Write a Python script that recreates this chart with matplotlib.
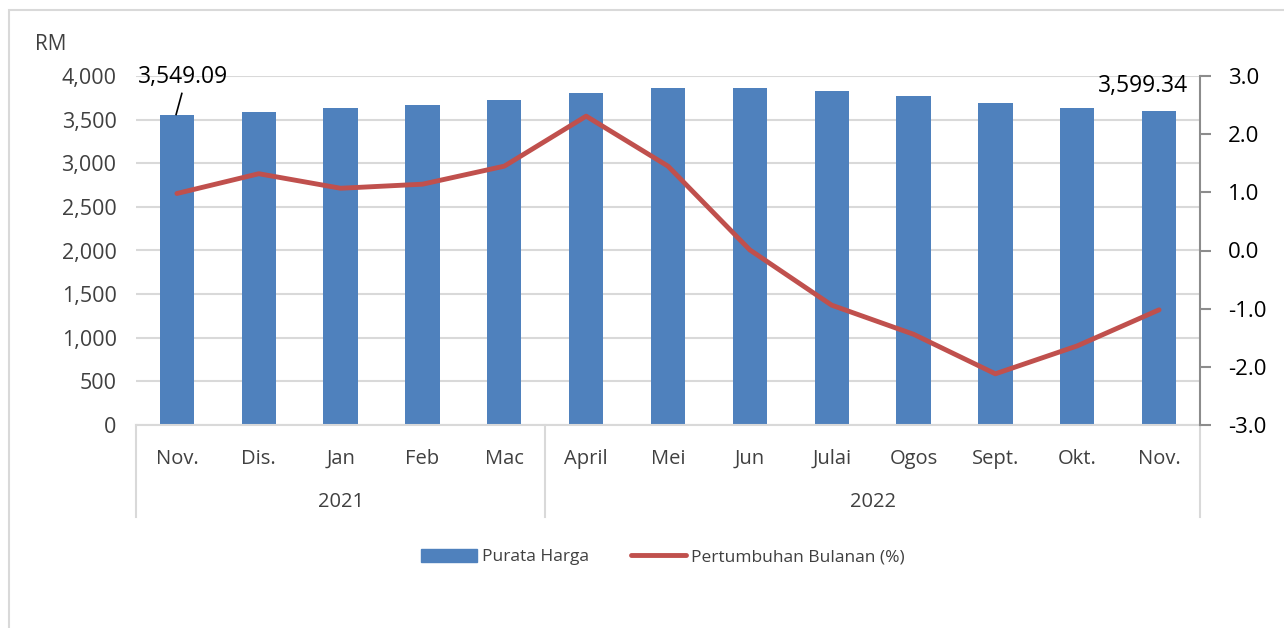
import matplotlib
matplotlib.use("Agg")
from matplotlib import pyplot as plt
from matplotlib import transforms
from matplotlib.lines import Line2D
from matplotlib.patches import Patch

months = ["Nov.", "Dis.", "Jan", "Feb", "Mac", "April", "Mei", "Jun",
          "Julai", "Ogos", "Sept.", "Okt.", "Nov."]
years = ["2021", "2022"]
year_spans = [(0, 4), (5, 12)]
avg_price = [3549.09, 3588, 3632, 3668, 3722, 3805, 3862, 3862,
             3828, 3771, 3690, 3633, 3599.34]
monthly_growth = [0.98, 1.32, 1.07, 1.14, 1.45, 2.31, 1.45, 0.01,
                  -0.94, -1.44, -2.12, -1.64, -1.02]

BLUE = "#4F81BD"
RED = "#C0504D"
GRID = "#D9D9D9"
TXT = "#404040"

plt.rcParams["font.family"] = ["Open Sans", "DejaVu Sans"]

fig = plt.figure(figsize=(12.84, 6.28), dpi=100)
fig.patches.append(plt.Rectangle((9 / 1284, -0.1), 1.2, 1 - 10 / 628 + 0.1,
                                 transform=fig.transFigure, fill=False,
                                 edgecolor=GRID, linewidth=1.5))

ax = fig.add_axes([136 / 1284, 1 - 425 / 628, 1064 / 1284, 349 / 628])
x = list(range(len(months)))
ax.bar(x, avg_price, width=0.42, color=BLUE, zorder=2)
ax.set_xlim(-0.5, len(months) - 0.5)
ax.set_ylim(0, 4000)
ax.set_yticks(range(0, 4001, 500))
ax.set_yticklabels(["{:,}".format(v) for v in range(0, 4001, 500)])
ax.grid(axis="y", color=GRID, linewidth=1.5, zorder=0)
for s in ["top", "left", "right"]:
    ax.spines[s].set_visible(False)
ax.spines["bottom"].set_color(GRID)
ax.spines["bottom"].set_linewidth(1.5)
ax.tick_params(axis="y", length=0, pad=14, labelsize=15.5, labelcolor=TXT)
ax.set_xticks(x)
ax.set_xticklabels(months)
ax.tick_params(axis="x", length=0, pad=17, labelsize=14.5, labelcolor=TXT)

trans = transforms.blended_transform_factory(ax.transData, ax.transAxes)
for sep in [-0.5, 4.5, len(months) - 0.5]:
    ax.plot([sep, sep], [0, -92 / 349], transform=trans, color=GRID,
            linewidth=1.5, clip_on=False)
for label, (a, b) in zip(years, year_spans):
    ax.text((a + b) / 2, -77 / 349, label, transform=trans, ha="center",
            va="center", fontsize=14.5, color=TXT)

ax.text(-101 / 1064, 1.089, "RM", transform=ax.transAxes, fontsize=15,
        color=TXT, ha="left", va="center")

# data labels for first and last bar, the first one with a leader line
ax.text(x[0] + 0.08, 3990, "{:,.2f}".format(avg_price[0]), ha="center",
        va="center", fontsize=16.5, color="black", clip_on=False)
ax.plot([x[0] + 0.06, x[0] - 0.01], [3800, avg_price[0] + 10],
        color="black", linewidth=1.2, zorder=4)
ax.text(x[-1] + 0.35, 3880, "{:,.2f}".format(avg_price[-1]), ha="right",
        va="center", fontsize=16.5, color="black")

ax2 = ax.twinx()
ax2.plot(x, monthly_growth, color=RED, linewidth=3.5, solid_capstyle="round",
         zorder=3)
ax2.set_ylim(-3, 3)
ax2.set_yticks([-3, -2, -1, 0, 1, 2, 3])
ax2.set_yticklabels(["{:.1f}".format(v) for v in [-3, -2, -1, 0, 1, 2, 3]])
for s in ["top", "left", "bottom"]:
    ax2.spines[s].set_visible(False)
ax2.spines["right"].set_color("#8C8C8C")
ax2.spines["right"].set_linewidth(1.5)
ax2.tick_params(axis="y", length=8, width=1.5, color="#8C8C8C", pad=12,
                labelsize=16, labelcolor="black")

handles = [Patch(color=BLUE), Line2D([0], [0], color=RED, linewidth=3.5,
                                     solid_capstyle="round")]
fig.legend(handles, ["Purata Harga", "Pertumbuhan Bulanan (%)"],
           loc="center", bbox_to_anchor=(663 / 1284, 1 - 557 / 628), ncol=2,
           frameon=False, fontsize=12.5, labelcolor=TXT, handlelength=3.2,
           handleheight=0.8, handletextpad=0.3, columnspacing=2.4)

plt.savefig("out.png", dpi=100)
